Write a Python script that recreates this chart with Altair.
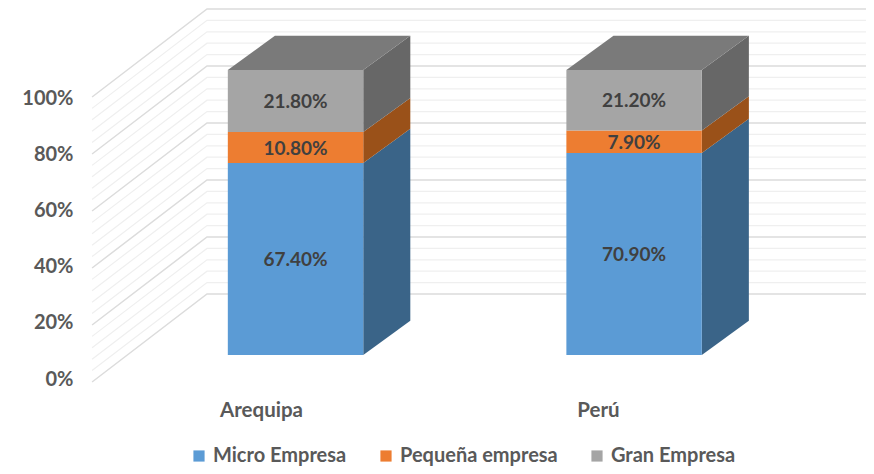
import altair as alt
import pandas as pd

categories = ["Arequipa", "Perú"]
series = ["Micro Empresa", "Pequeña empresa", "Gran Empresa"]
micro = [67.4, 70.9]
pequena = [10.8, 7.9]
gran = [21.8, 21.2]
labels = {"Micro Empresa": ["67.40%", "70.90%"],
          "Pequeña empresa": ["10.80%", "7.90%"],
          "Gran Empresa": ["21.80%", "21.20%"]}
axis_ticks = [0, 20, 40, 60, 80, 100]

front_colors = ["#5B9BD5", "#ED7D31", "#A5A5A5"]
side_colors = ["#3A6488", "#9A5119", "#676767"]
top_color = "#7A7A7A"
FONT = "Lato"
FS = 19
TXT = "#595959"

# Oblique projection, in chart units (category positions and percent)
BAR_W = 0.4
DEPTH_X, DEPTH_Y = 0.139, 12.0
WALL_X0, WALL_X1, WALL_END = -0.601, -0.2615, 1.685
WALL_LOW, WALL_HIGH = -9.47, 21.4

W, H = 778, 392
x_scale = alt.Scale(domain=[-0.613, 1.685], nice=False, zero=False)
y_scale = alt.Scale(domain=[-15.79, 121.75], nice=False, zero=False)
color_domain = series + [s + " lado" for s in series] + ["techo"]
color_range = front_colors + side_colors + [top_color]
color = alt.Color("key:N", scale=alt.Scale(domain=color_domain, range=color_range),
                  legend=alt.Legend(values=series, orient="none", direction="horizontal",
                                    columns=3, legendX=101, legendY=438, title=None,
                                    symbolType="square", symbolSize=125, symbolStrokeWidth=0,
                                    labelFont=FONT, labelFontSize=20, labelColor=TXT,
                                    labelFontWeight="bold", labelOffset=4, columnPadding=29,
                                    labelLimit=300, symbolOpacity=1))

front, side, top, text = [], [], [], []
for i, cat in enumerate(categories):
    base = 0.0
    for name, vals in zip(series, [micro, pequena, gran]):
        v = vals[i]
        left, right = i - BAR_W / 2, i + BAR_W / 2
        front.append(dict(x=left, x2=right, y=base, y2=base + v, key=name))
        text.append(dict(x=i, y=base + v / 2, t=labels[name][i]))
        gid = f"{cat}-{name}"
        side.append(dict(x=right, y=base, y2=base + v, key=name + " lado", gid=gid))
        side.append(dict(x=right + DEPTH_X, y=base + DEPTH_Y, y2=base + v + DEPTH_Y,
                         key=name + " lado", gid=gid))
        base += v
    top.append(dict(y=base, x=left, x2=right, key="techo", gid=cat))
    top.append(dict(y=base + DEPTH_Y, x=left + DEPTH_X, x2=right + DEPTH_X, key="techo", gid=cat))

grid = []
for p in range(0, 101, 4):
    kind = "major" if p % 20 == 0 else "minor"
    grid.append(dict(x=WALL_X0, y=p + WALL_LOW, level=p, kind=kind, o=0))
    grid.append(dict(x=WALL_X1, y=p + WALL_HIGH, level=p, kind=kind, o=1))
    grid.append(dict(x=WALL_END, y=p + WALL_HIGH, level=p, kind=kind, o=2))
grid = pd.DataFrame(grid)

X = alt.X("x:Q", scale=x_scale, axis=None)
Y = alt.Y("y:Q", scale=y_scale, axis=None)

minor_lines = alt.Chart(grid[grid.kind == "minor"]).mark_line(color="#EFEFEF", strokeWidth=1.2).encode(
    x=X, y=Y, detail="level:N", order="o:Q")
major_lines = alt.Chart(grid[grid.kind == "major"]).mark_line(color="#DCDCDC", strokeWidth=1.5).encode(
    x=X, y=Y, detail="level:N", order="o:Q")
fronts = alt.Chart(pd.DataFrame(front)).mark_rect().encode(x=X, x2="x2:Q", y=Y, y2="y2:Q", color=color)
sides = alt.Chart(pd.DataFrame(side)).mark_area().encode(
    x=X, y=Y, y2="y2:Q", color=color, detail="gid:N")
tops = alt.Chart(pd.DataFrame(top)).mark_area(orient="horizontal").encode(
    y=Y, x=X, x2="x2:Q", color=color, detail="gid:N")
texts = alt.Chart(pd.DataFrame(text)).mark_text(
    font=FONT, fontSize=FS, fontWeight="bold", color="#404040", dy=1).encode(x=X, y=Y, text="t:N")

main = alt.layer(minor_lines, major_lines, sides, tops, fronts, texts)

y_axis = alt.Chart(pd.DataFrame({"p": axis_ticks})).mark_point(opacity=0).encode(
    y=alt.Y("p:Q", scale=alt.Scale(domain=[-7.47, 132.03], nice=False, zero=False),
            axis=alt.Axis(orient="left", values=axis_ticks, labelExpr="datum.value + '%'",
                          domain=False, ticks=False, grid=False, title=None, labelPadding=15,
                          labelFont=FONT, labelFontSize=20, labelFontWeight="bold", labelColor=TXT)))
x_axis = alt.Chart(pd.DataFrame({"c": categories})).mark_point(opacity=0).encode(
    x=alt.X("c:N", sort=categories,
            scale=alt.Scale(type="point", domain=categories, range=[173, 510], padding=0),
            axis=alt.Axis(orient="bottom", labelAngle=0, domain=False, ticks=False, grid=False,
                          title=None, labelPadding=0, labelFont=FONT, labelFontSize=20.5,
                          labelFontWeight="bold", labelColor=TXT)))

chart = alt.layer(main, y_axis, x_axis).resolve_scale(x="independent", y="independent").properties(
    width=W, height=H,
    autosize=alt.AutoSizeParams(type="none"),
    padding={"left": 80, "top": 0, "right": 0, "bottom": 66},
).configure_view(stroke=None)

chart.save("out.html", embed_options={"renderer": "svg", "actions": False})
